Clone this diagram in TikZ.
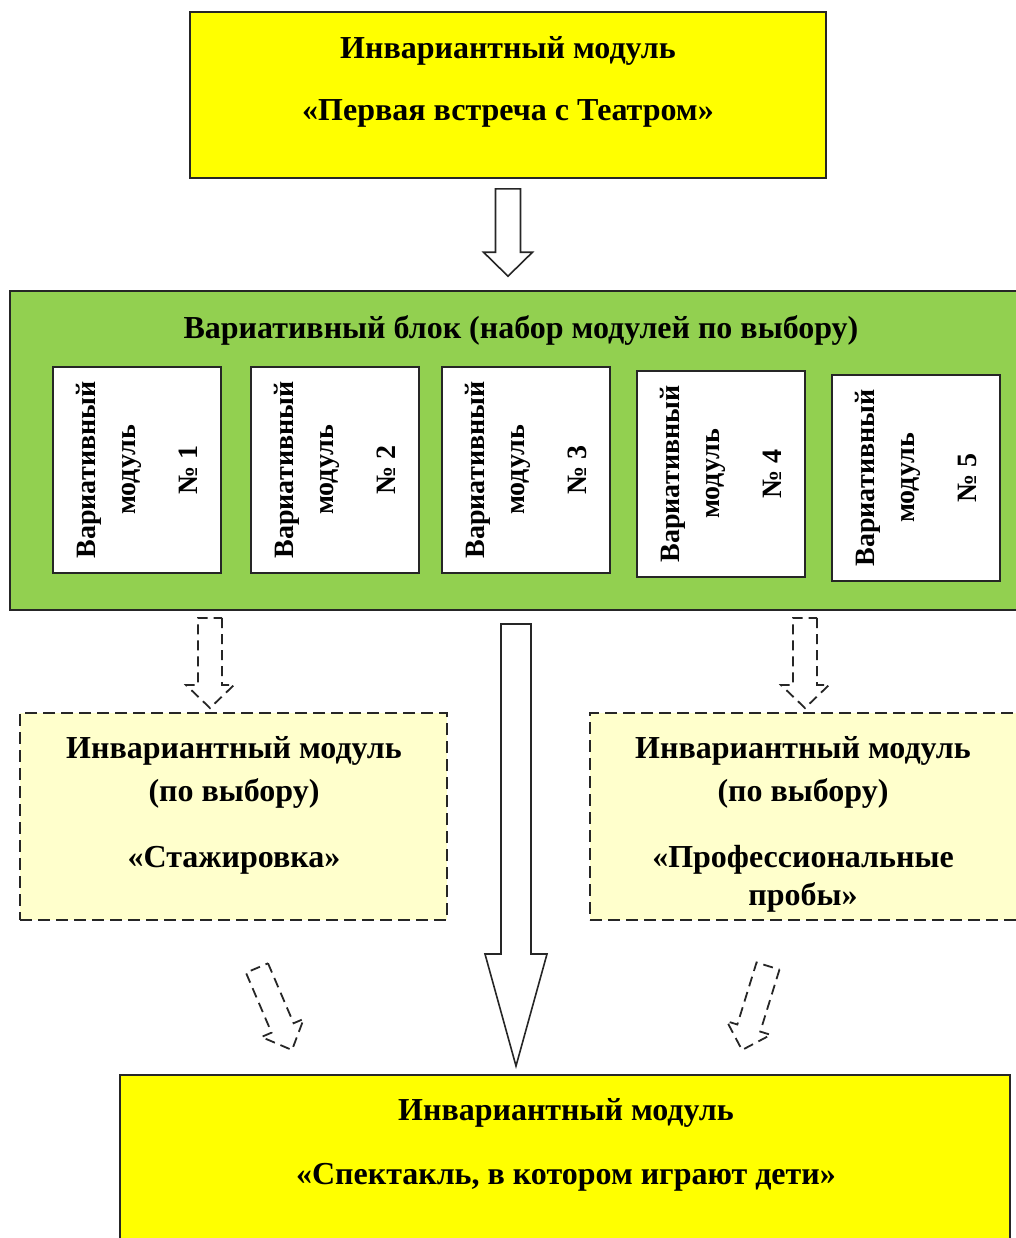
\documentclass[tikz,border=0pt]{standalone}
\usepackage{fontspec}
\setmainfont{Liberation Serif}
\usetikzlibrary{calc,positioning}

\definecolor{modyellow}{HTML}{FFFF00}
\definecolor{blockgreen}{HTML}{92D050}
\definecolor{paleyellow}{HTML}{FFFFCC}

% block arrow: [style]{from}{to}{half shaft}{half head}{head length}
\newcommand{\blockarrow}[6][]{%
  \coordinate (bahead) at ($(#3)!#6!(#2)$);
  \draw[#1] ($(#2)!#4!90:(#3)$) -- ($(bahead)!#4!-90:(#2)$)
    -- ($(bahead)!#5!-90:(#2)$) -- (#3)
    -- ($(bahead)!#5!90:(#2)$) -- ($(bahead)!#4!90:(#2)$)
    -- ($(#2)!#4!-90:(#3)$) -- cycle;
}

\begin{document}
\begin{tikzpicture}[
    x=0.5pt, y=-0.5pt,
    frame/.style={draw=black!85, line width=0.8pt, inner sep=0pt},
    optbox/.style={frame, dash pattern=on 6pt off 3pt, fill=paleyellow},
    title/.style={font=\fontsize{16}{20}\selectfont\bfseries, align=center},
    vmod/.style={frame, fill=white, rotate=90, align=center,
      minimum width=103pt, minimum height=84pt,
      font=\fontsize{14}{16}\selectfont\bfseries},
    solidarrow/.style={draw=black!85, line width=0.8pt, fill=white},
    dasharrow/.style={solidarrow, line width=0.9pt, dash pattern=on 5pt off 3pt}
  ]
  \useasboundingbox (0,0) rectangle (1016,1238);

  % first module
  \node[frame, fill=modyellow, minimum width=318pt, minimum height=83pt] (first) at (508,95) {};
  \node[title] (firsttxt) at (508,82) {Инвариантный модуль\\[11pt]«Первая встреча с Театром»};

  % variative block
  \node[frame, fill=blockgreen, minimum width=506pt, minimum height=159.5pt] (block) at (516,450.5) {};
  \node[title] (blocktxt) at (521,330) {Вариативный блок (набор модулей по выбору)};
  \foreach \n/\x/\y in {1/137/470, 2/335/470, 3/526/470, 4/721/474, 5/916/478}
    \node[vmod] (mod\n) at (\x,\y) {Вариативный\\[4pt]модуль\\[15pt]№ \n};

  % optional modules
  \node[optbox, minimum width=213.5pt, minimum height=103.5pt] (stage) at (233.5,816.5) {};
  \node[title] (stagetxt) at (234,805) {Инвариантный модуль\\[1.5pt](по выбору)\\[13pt]«Стажировка»};
  \node[optbox, minimum width=216pt, minimum height=103.5pt] (prof) at (806,816.5) {};
  \node[title] (proftxt) at (803,824) {Инвариантный модуль\\[1.5pt](по выбору)\\[13pt]«Профессиональные\\[-1pt]пробы»};

  % final module
  \node[frame, fill=modyellow, minimum width=445pt, minimum height=85pt] (final) at (565,1160) {};
  \node[title] (finaltxt) at (566,1145) {Инвариантный модуль\\[12pt]«Спектакль, в котором играют дети»};

  % arrows
  \coordinate (a0) at ([yshift=-5pt]first.south);
  \coordinate (a1) at ([yshift=7pt]a0 |- block.north);
  \blockarrow[solidarrow]{a0}{a1}{6.25pt}{12.25pt}{12pt}

  \coordinate (m0) at (516,624);
  \coordinate (m1) at (516,1066);
  \blockarrow[solidarrow]{m0}{m1}{7.5pt}{15.5pt}{56pt}

  \coordinate (l0) at (210,618);
  \coordinate (l1) at (210,708);
  \blockarrow[dasharrow]{l0}{l1}{6pt}{12pt}{11.5pt}
  \coordinate (r0) at (805,618);
  \coordinate (r1) at (805,708);
  \blockarrow[dasharrow]{r0}{r1}{6pt}{12pt}{11.5pt}

  \coordinate (ll0) at (257,968);
  \coordinate (ll1) at (292,1050);
  \blockarrow[dasharrow]{ll0}{ll1}{6pt}{11.5pt}{12pt}
  \coordinate (rr0) at (768,966);
  \coordinate (rr1) at (742,1050);
  \blockarrow[dasharrow]{rr0}{rr1}{6pt}{11.5pt}{11.5pt}
\end{tikzpicture}
\end{document}
